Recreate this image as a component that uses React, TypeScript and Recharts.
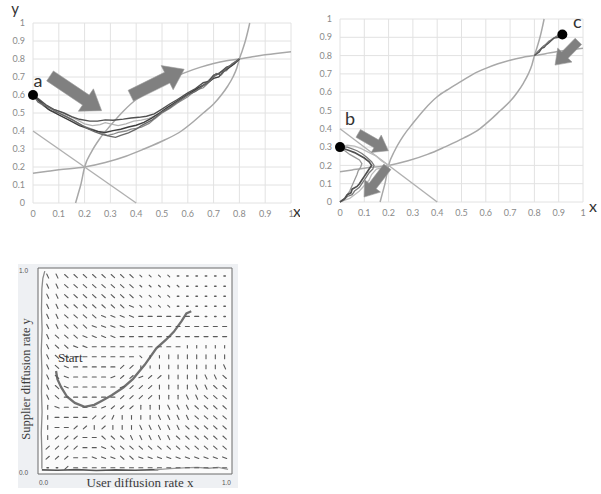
import React from 'react';
import {
  ComposedChart,
  Line,
  Scatter,
  XAxis,
  YAxis,
  CartesianGrid,
  ReferenceLine,
  ReferenceDot,
  ReferenceArea,
  Label,
} from 'recharts';

type Pt = { x: number; y: number };

// ---------- shared axis ticks ----------
const unitTicks = [0, 0.1, 0.2, 0.3, 0.4, 0.5, 0.6, 0.7, 0.8, 0.9, 1];
const fieldTicks = [0, 1];

// ---------- nullclines and separatrix ----------
const upperNullcline: Pt[] = [
  { x: 0.165, y: 0 }, { x: 0.175, y: 0.05 }, { x: 0.185, y: 0.1 }, { x: 0.2, y: 0.2 },
  { x: 0.225, y: 0.28 }, { x: 0.26, y: 0.36 }, { x: 0.3, y: 0.43 }, { x: 0.35, y: 0.51 },
  { x: 0.4, y: 0.575 }, { x: 0.45, y: 0.62 }, { x: 0.5, y: 0.66 }, { x: 0.55, y: 0.7 },
  { x: 0.6, y: 0.73 }, { x: 0.65, y: 0.755 }, { x: 0.7, y: 0.775 }, { x: 0.75, y: 0.79 },
  { x: 0.8, y: 0.8 }, { x: 0.85, y: 0.812 }, { x: 0.9, y: 0.823 }, { x: 0.95, y: 0.832 },
  { x: 1, y: 0.84 },
];
const lowerNullcline: Pt[] = [
  { x: 0, y: 0.165 }, { x: 0.05, y: 0.175 }, { x: 0.1, y: 0.185 }, { x: 0.2, y: 0.2 },
  { x: 0.28, y: 0.225 }, { x: 0.36, y: 0.26 }, { x: 0.43, y: 0.3 }, { x: 0.51, y: 0.35 },
  { x: 0.575, y: 0.4 }, { x: 0.62, y: 0.45 }, { x: 0.66, y: 0.5 }, { x: 0.7, y: 0.55 },
  { x: 0.73, y: 0.6 }, { x: 0.755, y: 0.65 }, { x: 0.775, y: 0.7 }, { x: 0.79, y: 0.75 },
  { x: 0.8, y: 0.8 }, { x: 0.812, y: 0.85 }, { x: 0.823, y: 0.9 }, { x: 0.832, y: 0.95 },
  { x: 0.84, y: 1 },
];
const separatrix: Pt[] = [{ x: 0, y: 0.4 }, { x: 0.4, y: 0 }];

// ---------- simulated runs starting at a ----------
const runA1: Pt[] = [
  { x: 0, y: 0.6 }, { x: 0.02, y: 0.58 }, { x: 0.05, y: 0.545 }, { x: 0.08, y: 0.52 },
  { x: 0.12, y: 0.5 }, { x: 0.15, y: 0.48 }, { x: 0.18, y: 0.465 }, { x: 0.22, y: 0.455 },
  { x: 0.25, y: 0.455 }, { x: 0.28, y: 0.462 }, { x: 0.31, y: 0.46 }, { x: 0.35, y: 0.466 },
  { x: 0.38, y: 0.472 }, { x: 0.41, y: 0.476 }, { x: 0.44, y: 0.482 }, { x: 0.47, y: 0.495 },
  { x: 0.5, y: 0.522 }, { x: 0.53, y: 0.55 }, { x: 0.56, y: 0.575 }, { x: 0.6, y: 0.612 },
  { x: 0.63, y: 0.636 }, { x: 0.66, y: 0.668 }, { x: 0.68, y: 0.675 }, { x: 0.7, y: 0.71 },
  { x: 0.72, y: 0.718 }, { x: 0.75, y: 0.755 }, { x: 0.77, y: 0.765 }, { x: 0.8, y: 0.8 },
];
const runA2: Pt[] = [
  { x: 0, y: 0.6 }, { x: 0.03, y: 0.56 }, { x: 0.06, y: 0.52 }, { x: 0.1, y: 0.49 },
  { x: 0.14, y: 0.46 }, { x: 0.18, y: 0.43 }, { x: 0.22, y: 0.41 }, { x: 0.25, y: 0.397 },
  { x: 0.28, y: 0.392 }, { x: 0.31, y: 0.402 }, { x: 0.34, y: 0.41 }, { x: 0.37, y: 0.422 },
  { x: 0.4, y: 0.432 }, { x: 0.43, y: 0.448 }, { x: 0.46, y: 0.472 }, { x: 0.49, y: 0.5 },
  { x: 0.52, y: 0.53 }, { x: 0.55, y: 0.558 }, { x: 0.58, y: 0.585 }, { x: 0.61, y: 0.612 },
  { x: 0.64, y: 0.64 }, { x: 0.67, y: 0.662 }, { x: 0.7, y: 0.692 }, { x: 0.72, y: 0.7 },
  { x: 0.74, y: 0.732 }, { x: 0.76, y: 0.752 }, { x: 0.78, y: 0.772 }, { x: 0.8, y: 0.8 },
];
const runA3: Pt[] = [
  { x: 0, y: 0.6 }, { x: 0.02, y: 0.57 }, { x: 0.04, y: 0.54 }, { x: 0.07, y: 0.512 },
  { x: 0.1, y: 0.5 }, { x: 0.13, y: 0.48 }, { x: 0.16, y: 0.455 }, { x: 0.19, y: 0.43 },
  { x: 0.22, y: 0.415 }, { x: 0.25, y: 0.4 }, { x: 0.27, y: 0.385 }, { x: 0.29, y: 0.375 },
  { x: 0.31, y: 0.382 }, { x: 0.33, y: 0.392 }, { x: 0.36, y: 0.4 }, { x: 0.38, y: 0.41 },
  { x: 0.4, y: 0.415 }, { x: 0.42, y: 0.422 }, { x: 0.45, y: 0.442 }, { x: 0.47, y: 0.466 },
  { x: 0.5, y: 0.5 }, { x: 0.53, y: 0.525 }, { x: 0.56, y: 0.556 }, { x: 0.6, y: 0.59 },
  { x: 0.63, y: 0.626 }, { x: 0.66, y: 0.64 }, { x: 0.68, y: 0.668 }, { x: 0.7, y: 0.7 },
  { x: 0.73, y: 0.728 }, { x: 0.75, y: 0.735 }, { x: 0.77, y: 0.772 }, { x: 0.8, y: 0.8 },
];
const runA4: Pt[] = [
  { x: 0, y: 0.6 }, { x: 0.03, y: 0.55 }, { x: 0.06, y: 0.53 }, { x: 0.1, y: 0.51 },
  { x: 0.13, y: 0.49 }, { x: 0.16, y: 0.47 }, { x: 0.2, y: 0.44 }, { x: 0.23, y: 0.43 },
  { x: 0.26, y: 0.436 }, { x: 0.28, y: 0.446 }, { x: 0.3, y: 0.44 }, { x: 0.33, y: 0.43 },
  { x: 0.36, y: 0.44 }, { x: 0.39, y: 0.455 }, { x: 0.42, y: 0.46 }, { x: 0.45, y: 0.47 },
  { x: 0.48, y: 0.49 }, { x: 0.51, y: 0.51 }, { x: 0.54, y: 0.54 }, { x: 0.57, y: 0.57 },
  { x: 0.6, y: 0.6 }, { x: 0.64, y: 0.63 }, { x: 0.67, y: 0.67 }, { x: 0.7, y: 0.705 },
  { x: 0.73, y: 0.73 }, { x: 0.76, y: 0.76 }, { x: 0.8, y: 0.8 },
];
const runA5: Pt[] = [
  { x: 0, y: 0.6 }, { x: 0.02, y: 0.56 }, { x: 0.05, y: 0.54 }, { x: 0.08, y: 0.515 },
  { x: 0.12, y: 0.485 }, { x: 0.15, y: 0.465 }, { x: 0.18, y: 0.44 }, { x: 0.21, y: 0.415 },
  { x: 0.24, y: 0.395 }, { x: 0.27, y: 0.38 }, { x: 0.3, y: 0.37 }, { x: 0.32, y: 0.365 },
  { x: 0.34, y: 0.376 }, { x: 0.37, y: 0.39 }, { x: 0.4, y: 0.41 }, { x: 0.42, y: 0.43 },
  { x: 0.44, y: 0.445 }, { x: 0.46, y: 0.46 }, { x: 0.48, y: 0.482 }, { x: 0.5, y: 0.505 },
  { x: 0.53, y: 0.53 }, { x: 0.56, y: 0.562 }, { x: 0.6, y: 0.6 }, { x: 0.63, y: 0.62 },
  { x: 0.66, y: 0.652 }, { x: 0.69, y: 0.682 }, { x: 0.71, y: 0.72 }, { x: 0.73, y: 0.712 },
  { x: 0.75, y: 0.748 }, { x: 0.77, y: 0.77 }, { x: 0.8, y: 0.8 },
];

// ---------- simulated runs starting at b ----------
const runB1: Pt[] = [
  { x: 0, y: 0.3 }, { x: 0.02, y: 0.29 }, { x: 0.04, y: 0.28 }, { x: 0.06, y: 0.27 },
  { x: 0.08, y: 0.255 }, { x: 0.1, y: 0.24 }, { x: 0.12, y: 0.22 }, { x: 0.13, y: 0.2 },
  { x: 0.12, y: 0.18 }, { x: 0.11, y: 0.16 }, { x: 0.1, y: 0.14 }, { x: 0.09, y: 0.12 },
  { x: 0.08, y: 0.1 }, { x: 0.07, y: 0.085 }, { x: 0.05, y: 0.07 }, { x: 0.045, y: 0.05 },
  { x: 0.03, y: 0.04 }, { x: 0.02, y: 0.02 }, { x: 0.01, y: 0.01 }, { x: 0, y: 0 },
];
const runB2: Pt[] = [
  { x: 0, y: 0.3 }, { x: 0.03, y: 0.3 }, { x: 0.05, y: 0.29 }, { x: 0.07, y: 0.28 },
  { x: 0.09, y: 0.265 }, { x: 0.11, y: 0.245 }, { x: 0.13, y: 0.22 }, { x: 0.14, y: 0.2 },
  { x: 0.135, y: 0.18 }, { x: 0.12, y: 0.16 }, { x: 0.11, y: 0.14 }, { x: 0.1, y: 0.12 },
  { x: 0.09, y: 0.1 }, { x: 0.08, y: 0.08 }, { x: 0.06, y: 0.06 }, { x: 0.05, y: 0.04 },
  { x: 0.03, y: 0.03 }, { x: 0.015, y: 0.01 }, { x: 0, y: 0 },
];
const runB3: Pt[] = [
  { x: 0, y: 0.3 }, { x: 0.03, y: 0.31 }, { x: 0.06, y: 0.305 }, { x: 0.09, y: 0.29 },
  { x: 0.12, y: 0.27 }, { x: 0.15, y: 0.25 }, { x: 0.17, y: 0.225 }, { x: 0.2, y: 0.2 },
  { x: 0.18, y: 0.188 }, { x: 0.15, y: 0.18 }, { x: 0.13, y: 0.15 }, { x: 0.12, y: 0.12 },
  { x: 0.1, y: 0.09 }, { x: 0.08, y: 0.06 }, { x: 0.06, y: 0.04 }, { x: 0.04, y: 0.02 },
  { x: 0.02, y: 0.01 }, { x: 0, y: 0 },
];
const runB4: Pt[] = [
  { x: 0, y: 0.3 }, { x: 0.02, y: 0.28 }, { x: 0.04, y: 0.26 }, { x: 0.06, y: 0.245 },
  { x: 0.08, y: 0.23 }, { x: 0.09, y: 0.21 }, { x: 0.085, y: 0.19 }, { x: 0.075, y: 0.17 },
  { x: 0.07, y: 0.15 }, { x: 0.06, y: 0.12 }, { x: 0.05, y: 0.09 }, { x: 0.04, y: 0.06 },
  { x: 0.03, y: 0.04 }, { x: 0.02, y: 0.02 }, { x: 0, y: 0 },
];

// ---------- simulated runs starting at c ----------
const runC1: Pt[] = [
  { x: 0.915, y: 0.915 }, { x: 0.9, y: 0.9 }, { x: 0.88, y: 0.895 }, { x: 0.86, y: 0.87 },
  { x: 0.85, y: 0.86 }, { x: 0.84, y: 0.845 }, { x: 0.83, y: 0.84 }, { x: 0.82, y: 0.82 },
  { x: 0.81, y: 0.81 }, { x: 0.8, y: 0.8 },
];
const runC2: Pt[] = [
  { x: 0.915, y: 0.915 }, { x: 0.89, y: 0.905 }, { x: 0.87, y: 0.885 }, { x: 0.86, y: 0.88 },
  { x: 0.845, y: 0.86 }, { x: 0.835, y: 0.85 }, { x: 0.82, y: 0.83 }, { x: 0.81, y: 0.815 },
  { x: 0.8, y: 0.8 },
];
const runC3: Pt[] = [
  { x: 0.915, y: 0.915 }, { x: 0.9, y: 0.91 }, { x: 0.87, y: 0.89 }, { x: 0.855, y: 0.865 },
  { x: 0.84, y: 0.855 }, { x: 0.825, y: 0.835 }, { x: 0.81, y: 0.82 }, { x: 0.8, y: 0.8 },
];

// ---------- direction arrows (tail -> tip, in data units) ----------
type Arrow = { x1: number; y1: number; x2: number; y2: number };
const arrowsLeft: Arrow[] = [
  { x1: 0.066, y1: 0.706, x2: 0.266, y2: 0.513 },
  { x1: 0.379, y1: 0.596, x2: 0.586, y2: 0.743 },
];
const arrowsRight: Arrow[] = [
  { x1: 0.075, y1: 0.375, x2: 0.199, y2: 0.28 },
  { x1: 0.195, y1: 0.192, x2: 0.099, y2: 0.027 },
  { x1: 0.981, y1: 0.878, x2: 0.885, y2: 0.748 },
];

// ---------- direction field ----------
const fieldCols = [0.05, 0.098, 0.146, 0.194, 0.242, 0.29, 0.338, 0.386, 0.434, 0.482,
  0.53, 0.578, 0.626, 0.674, 0.722, 0.77, 0.818, 0.866, 0.914, 0.962];
const fieldRows = [0.961, 0.912, 0.863, 0.814, 0.765, 0.716, 0.667, 0.618, 0.569, 0.52,
  0.471, 0.422, 0.373, 0.324, 0.275, 0.226, 0.177, 0.128, 0.079, 0.03];
// one glyph per lattice cell, top row first
const fieldGlyphs = [
  'VVbbbbbbbbcccc......',
  'VVbbbbbbbbccccc.....',
  'VVbbbbbbbbcccc......',
  'VVbbbbbbbncccc......',
  'VVbbbbnnnn-------...',
  'VVbbbnnnn-----------',
  'Vbbbnnnn------------',
  'Vbbnn----------iiiii',
  'Vbn-------ciiIIIIIII',
  'Vbn-----ssiiIIIIIIIV',
  'Vbn----psspssIIIIVVb',
  'Vbn-----psssIIIIVVbb',
  'Vb------ssssIIIVVbbb',
  'In----psssIIIVVVbbbb',
  'I----ssJIIIIVVVVbbbb',
  'I--ssIsIIIVVVVVbbbbb',
  'Isss--bbbVVVVVbbbbbb',
  'ssss--nbbbbbbbbbbbbb',
  'sss--nnnbbnnnnnnnnnn',
  '..s-----------------',
];
const glyphAngle: Record<string, number> = {
  V: -65, b: -42, n: -22, '-': 0, p: 22, s: 42, J: 65, I: 90, c: -42, i: 90, '.': 0,
};
const glyphLength: Record<string, number> = {
  V: 4.6, b: 4.6, n: 4.4, '-': 4, p: 4.2, s: 4.4, J: 4.2, I: 3.8, c: 2.6, i: 2.4, '.': 1.4,
};

const fieldPoints = fieldRows.flatMap((y, r) =>
  fieldCols.map((x, c) => ({ x, y, g: fieldGlyphs[r][c] })),
);

// ---------- tracks in the direction-field panel ----------
const startTrack: Pt[] = [
  { x: 0.093, y: 0.5 }, { x: 0.1, y: 0.46 }, { x: 0.12, y: 0.42 }, { x: 0.15, y: 0.375 },
  { x: 0.19, y: 0.345 }, { x: 0.24, y: 0.326 }, { x: 0.29, y: 0.336 }, { x: 0.33, y: 0.356 },
  { x: 0.38, y: 0.382 }, { x: 0.44, y: 0.42 }, { x: 0.49, y: 0.462 }, { x: 0.55, y: 0.53 },
  { x: 0.61, y: 0.61 }, { x: 0.66, y: 0.652 }, { x: 0.7, y: 0.69 }, { x: 0.74, y: 0.742 },
  { x: 0.765, y: 0.78 }, { x: 0.79, y: 0.79 },
];
const leftEdgeTrack: Pt[] = [
  { x: 0.035, y: 0.985 }, { x: 0.025, y: 0.95 }, { x: 0.02, y: 0.9 }, { x: 0.018, y: 0.8 },
  { x: 0.021, y: 0.7 }, { x: 0.017, y: 0.6 }, { x: 0.02, y: 0.5 }, { x: 0.018, y: 0.4 },
  { x: 0.021, y: 0.3 }, { x: 0.017, y: 0.2 }, { x: 0.02, y: 0.1 }, { x: 0.02, y: 0.025 },
];
const bottomEdgeTrack: Pt[] = [
  { x: 0.02, y: 0.02 }, { x: 0.1, y: 0.018 }, { x: 0.2, y: 0.021 }, { x: 0.3, y: 0.017 },
  { x: 0.4, y: 0.02 }, { x: 0.5, y: 0.018 }, { x: 0.62, y: 0.021 },
];
const bottomEdgeTail: Pt[] = [
  { x: 0.6, y: 0.02 }, { x: 0.68, y: 0.026 }, { x: 0.75, y: 0.03 }, { x: 0.82, y: 0.032 },
  { x: 0.88, y: 0.028 }, { x: 0.93, y: 0.032 }, { x: 0.98, y: 0.022 },
];

// ---------- drawing helpers ----------
const TOP_FONT = 'Lato, "Open Sans", sans-serif';
const SERIF = '"Liberation Serif", "DejaVu Serif", serif';

function BlockArrow(props: any) {
  const { x1, y1, x2, y2, shaft, head, headLen } = props;
  if ([x1, y1, x2, y2].some((v) => typeof v !== 'number')) return <g />;
  const dx = x2 - x1;
  const dy = y2 - y1;
  const len = Math.hypot(dx, dy) || 1;
  const ux = dx / len;
  const uy = dy / len;
  const nx = -uy;
  const ny = ux;
  const bx = x2 - ux * headLen;
  const by = y2 - uy * headLen;
  const pts = [
    [x1 + (nx * shaft) / 2, y1 + (ny * shaft) / 2],
    [bx + (nx * shaft) / 2, by + (ny * shaft) / 2],
    [bx + (nx * head) / 2, by + (ny * head) / 2],
    [x2, y2],
    [bx - (nx * head) / 2, by - (ny * head) / 2],
    [bx - (nx * shaft) / 2, by - (ny * shaft) / 2],
    [x1 - (nx * shaft) / 2, y1 - (ny * shaft) / 2],
  ];
  return (
    <polygon
      points={pts.map((p) => p.join(',')).join(' ')}
      fill="#808080"
      stroke="#9c9c9c"
      strokeWidth={0.6}
    />
  );
}

const letterTag = (text: string, dx: number, dy: number) => (props: any) => {
  const vb = props.viewBox || {};
  const cx = (vb.x ?? 0) + (vb.width ?? 0) / 2;
  const cy = (vb.y ?? 0) + (vb.height ?? 0) / 2;
  return (
    <text x={cx + dx} y={cy + dy + 6} textAnchor="middle" fontSize={18} fill="#333" fontFamily={TOP_FONT}>
      {text}
    </text>
  );
};

const axisLetter = (text: string, dx: number, dy: number, side: 'right' | 'top', size = 16) => (props: any) => {
  const vb = props.viewBox || {};
  const x = side === 'right' ? vb.x + vb.width + dx : vb.x + dx;
  const y = vb.y + dy;
  return (
    <text x={x} y={y} textAnchor="middle" fontSize={size} fill="#333" fontFamily={TOP_FONT}>
      {text}
    </text>
  );
};

function FieldGlyph(props: any) {
  const { cx, cy, payload } = props;
  if (typeof cx !== 'number' || typeof cy !== 'number' || !payload) return <g />;
  const g: string = payload.g;
  const L = glyphLength[g] ?? 4;
  const a = ((glyphAngle[g] ?? 0) * Math.PI) / 180;
  const hx = (Math.cos(a) * L) / 2;
  const hy = (Math.sin(a) * L) / 2;
  return (
    <line
      x1={cx - hx}
      y1={cy + hy}
      x2={cx + hx}
      y2={cy - hy}
      stroke="#5a5a5a"
      strokeWidth={g === '.' ? 1.5 : 1.1}
      strokeLinecap="round"
    />
  );
}

const fmtTick = (v: number) => String(v);

type PhaseProps = {
  width: number;
  height: number;
  margin: { top: number; right: number; bottom: number; left: number };
  yAxisWidth: number;
  xAxisHeight: number;
  children: React.ReactNode;
  xLetter: React.ReactNode;
  yLetter?: React.ReactNode;
};

function PhasePanel({ width, height, margin, yAxisWidth, xAxisHeight, children, xLetter, yLetter }: PhaseProps) {
  return (
    <ComposedChart width={width} height={height} margin={margin}>
      <CartesianGrid stroke="#e2e2e2" strokeWidth={1} />
      <XAxis
        dataKey="x"
        type="number"
        domain={[0, 1]}
        ticks={unitTicks}
        interval={0}
        tickFormatter={fmtTick}
        axisLine={false}
        tickLine={false}
        height={xAxisHeight}
        tick={{ fontSize: 9, fill: '#8a8a8a', fontFamily: TOP_FONT }}
      >
        {xLetter}
      </XAxis>
      <YAxis
        dataKey="y"
        type="number"
        domain={[0, 1]}
        ticks={unitTicks}
        interval={0}
        tickFormatter={fmtTick}
        axisLine={false}
        tickLine={false}
        width={yAxisWidth}
        tick={{ fontSize: 9, fill: '#8a8a8a', fontFamily: TOP_FONT }}
      >
        {yLetter}
      </YAxis>
      <Line data={upperNullcline} dataKey="y" type="monotone" stroke="#a8a8a8" strokeWidth={1.5} dot={false} isAnimationActive={false} />
      <Line data={lowerNullcline} dataKey="y" type="monotone" stroke="#a8a8a8" strokeWidth={1.5} dot={false} isAnimationActive={false} />
      <Line data={separatrix} dataKey="y" type="linear" stroke="#b0b0b0" strokeWidth={1.4} dot={false} isAnimationActive={false} />
      {children}
    </ComposedChart>
  );
}

const run = (data: Pt[], stroke: string, w = 1.3, key?: string) => (
  <Line
    key={key}
    data={data}
    dataKey="y"
    type="linear"
    stroke={stroke}
    strokeWidth={w}
    dot={false}
    isAnimationActive={false}
  />
);

const arrowLine = (a: Arrow, i: number, shaft: number, head: number, headLen: number) => (
  <ReferenceLine
    key={`arrow-${i}`}
    segment={[{ x: a.x1, y: a.y1 }, { x: a.x2, y: a.y2 }]}
    ifOverflow="visible"
    shape={(p: any) => <BlockArrow {...p} shaft={shaft} head={head} headLen={headLen} />}
  />
);

export default function App() {
  return (
    <div style={{ position: 'absolute', left: 0, top: 0, width: 601, height: 494, background: '#fff', overflow: 'hidden' }}>
      {/* panel with start point a */}
      <div style={{ position: 'absolute', left: 0, top: 0 }}>
        <PhasePanel
          width={300}
          height={225}
          margin={{ top: 23, right: 9, bottom: 0, left: 0 }}
          yAxisWidth={33}
          xAxisHeight={22}
          xLetter={<Label content={axisLetter('x', 6, 14, 'right')} />}
          yLetter={<Label content={axisLetter('y', 15, -9, 'top', 15)} />}
        >
          {run(runA4, '#b4b4b4', 1.3, 'a4')}
          {run(runA3, '#8a8a8a', 1.3, 'a3')}
          {run(runA1, '#505050', 1.4, 'a1')}
          {run(runA2, '#3e3e3e', 1.4, 'a2')}
          {run(runA5, '#686868', 1.3, 'a5')}
          {arrowsLeft.map((a, i) => arrowLine(a, i, 12, 27, 19))}
          <ReferenceDot x={0} y={0.6} r={5} fill="#000" stroke="none" ifOverflow="visible" label={letterTag('a', 5, -14)} />
        </PhasePanel>
      </div>

      {/* panel with start points b and c */}
      <div style={{ position: 'absolute', left: 300, top: 0 }}>
        <PhasePanel
          width={301}
          height={225}
          margin={{ top: 19, right: 18, bottom: 0, left: 0 }}
          yAxisWidth={40}
          xAxisHeight={23}
          xLetter={<Label content={axisLetter('x', 10, 10, 'right')} />}
        >
          {run(runB3, '#bcbcbc', 1.3, 'b3')}
          {run(runB4, '#9a9a9a', 1.3, 'b4')}
          {run(runB2, '#7a7a7a', 1.3, 'b2')}
          {run(runB1, '#505050', 1.7, 'b1')}
          {run(runC3, '#b0b0b0', 1.2, 'c3')}
          {run(runC2, '#7a7a7a', 1.2, 'c2')}
          {run(runC1, '#555555', 1.3, 'c1')}
          {arrowsRight.map((a, i) => arrowLine(a, i, 9, 20, 14))}
          <ReferenceDot x={0} y={0.3} r={5} fill="#000" stroke="none" ifOverflow="visible" label={letterTag('b', 10, -28)} />
          <ReferenceDot x={0.915} y={0.915} r={5} fill="#000" stroke="none" ifOverflow="visible" label={letterTag('c', 15, -13)} />
        </PhasePanel>
      </div>

      {/* direction field panel */}
      <div style={{ position: 'absolute', left: 18, top: 264, width: 220, height: 224, background: '#eef0f3' }}>
        <ComposedChart width={220} height={224} margin={{ top: 4, right: 6, bottom: 0, left: 0 }}>
          <CartesianGrid horizontal={false} vertical={false} fill="#fbfbfb" />
          <XAxis
            dataKey="x"
            type="number"
            domain={[0, 1]}
            ticks={fieldTicks}
            interval={0}
            axisLine={false}
            tickLine={false}
            tickSize={0}
            tickMargin={0}
            height={14}
            tick={(p: any) => (
              <text
                x={p.payload.value === 0 ? p.x + 1 : p.x - 1}
                y={p.y + 11}
                textAnchor={p.payload.value === 0 ? 'start' : 'end'}
                fontSize={6.5}
                fill="#555"
                fontFamily='"Liberation Sans", sans-serif'
              >
                {p.payload.value.toFixed(1)}
              </text>
            )}
          >
            <Label
              content={(p: any) => {
                const vb = p.viewBox;
                return (
                  <text x={vb.x + vb.width / 2 + 5} y={vb.y + 12.5} textAnchor="middle" fontSize={13} fill="#3a3a3a" fontFamily={SERIF}>
                    User diffusion rate x
                  </text>
                );
              }}
            />
          </XAxis>
          <YAxis
            dataKey="y"
            type="number"
            domain={[0, 1]}
            ticks={fieldTicks}
            interval={0}
            axisLine={false}
            tickLine={false}
            tickSize={0}
            tickMargin={0}
            width={20}
            tick={(p: any) => (
              <text
                x={p.x - 19}
                y={p.payload.value === 1 ? p.y + 5 : p.y + 1}
                textAnchor="start"
                fontSize={6.5}
                fill="#555"
                fontFamily='"Liberation Sans", sans-serif'
              >
                {p.payload.value.toFixed(1)}
              </text>
            )}
          >
            <Label
              content={(p: any) => {
                const vb = p.viewBox;
                const cx = vb.x + 8;
                const cy = vb.y + vb.height / 2 + 8;
                return (
                  <text
                    x={cx}
                    y={cy}
                    transform={`rotate(-90 ${cx} ${cy})`}
                    textAnchor="middle"
                    dominantBaseline="central"
                    fontSize={12.5}
                    fill="#3a3a3a"
                    fontFamily={SERIF}
                  >
                    Supplier diffusion rate y
                  </text>
                );
              }}
            />
          </YAxis>
          <ReferenceArea x1={0} x2={1} y1={0} y2={1} fill="none" stroke="#6a6a6a" strokeWidth={1} ifOverflow="visible" />
          <Scatter data={fieldPoints} shape={FieldGlyph} isAnimationActive={false} />
          {run(leftEdgeTrack, '#8a8a8a', 1.3, 'left')}
          {run(bottomEdgeTrack, '#555555', 1.6, 'bottom')}
          {run(bottomEdgeTail, '#9a9a9a', 1.3, 'tail')}
          {run(startTrack, '#707070', 2.3, 'start')}
          <ReferenceDot
            x={0.103}
            y={0.544}
            r={0}
            fill="none"
            stroke="none"
            label={(p: any) => {
              const vb = p.viewBox || {};
              return (
                <text x={vb.x} y={vb.y} textAnchor="start" fontSize={13} fill="#333" fontFamily={SERIF}>
                  Start
                </text>
              );
            }}
          />
        </ComposedChart>
      </div>
    </div>
  );
}
